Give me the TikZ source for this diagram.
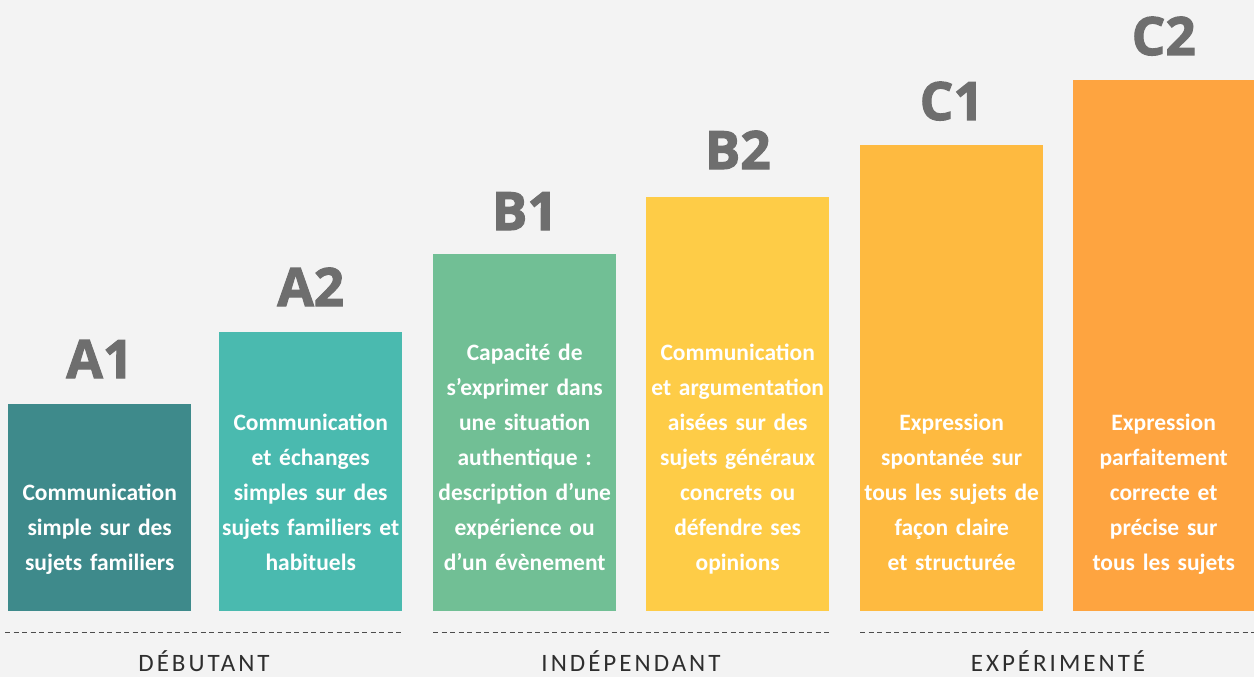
\documentclass[tikz,border=0pt]{standalone}
\usepackage{fontspec}
\setmainfont{Carlito}
\newfontfamily\lvlfont[FakeBold=2]{Open Sans Bold}
\newfontfamily\catfont[LetterSpace=12]{Carlito}
\definecolor{bgc}{HTML}{F3F3F3}
\definecolor{ca1}{HTML}{3E8A8B}
\definecolor{ca2}{HTML}{4ABAAF}
\definecolor{cb1}{HTML}{71BF95}
\definecolor{cb2}{HTML}{FECC47}
\definecolor{cc1}{HTML}{FEBA40}
\definecolor{cc2}{HTML}{FEA440}
\definecolor{lvlgray}{HTML}{6E6E6E}
\definecolor{catgray}{HTML}{2E2E2E}
\tikzset{
  bar/.style={anchor=north west, inner sep=0, minimum width=183pt, draw=none},
  bartext/.style={anchor=south, inner sep=0, text=white, align=center, text width=183pt,
    font=\fontsize{23.5}{35}\selectfont\bfseries},
  lvl/.style={anchor=base, inner sep=0, text=lvlgray, font=\lvlfont\fontsize{53}{60}\selectfont},
  sepline/.style={draw=black!70, line width=0.9pt, dash pattern=on 5pt off 3.5pt},
  cat/.style={anchor=base, inner sep=0, text=catgray, font=\catfont\fontsize{25}{30}\selectfont}
}
\newcommand{\lastdp}{\rule[-7pt]{0pt}{1pt}}
\begin{document}
\begin{tikzpicture}[x=1pt,y=-1pt]
\fill[bgc] (0,0) rectangle (1254,677);
\useasboundingbox (0,0) rectangle (1254,677);
% bars
\node[bar, fill=ca1, minimum height=207pt] (a1) at (8,404) {};
\node[bar, fill=ca2, minimum height=279pt] (a2) at (219,332) {};
\node[bar, fill=cb1, minimum height=357pt] (b1) at (433,254) {};
\node[bar, fill=cb2, minimum height=414pt] (b2) at (646,197) {};
\node[bar, fill=cc1, minimum height=466pt] (c1) at (860,145) {};
\node[bar, fill=cc2, minimum height=531pt, minimum width=181pt] (c2) at (1073,80) {};
% level labels
\node[lvl] (la1) at ([yshift=26pt]a1.north) {A1};
\node[lvl] (la2) at ([yshift=26pt]a2.north) {A2};
\node[lvl] (lb1) at ([yshift=24pt]b1.north) {B1};
\node[lvl] (lb2) at ([yshift=28pt]b2.north) {B2};
\node[lvl] (lc1) at ([yshift=25pt]c1.north) {C1};
\node[lvl] (lc2) at ([yshift=25pt]c2.north) {C2};
% texts
\node[bartext] (ta1) at ([yshift=34pt]a1.south) {Communication\\simple sur des\\sujets familiers\lastdp};
\node[bartext] (ta2) at ([yshift=34pt]a2.south) {Communication\\et échanges\\simples sur des\\sujets familiers et\\habituels\lastdp};
\node[bartext] (tb1) at ([yshift=34pt]b1.south) {Capacité de\\s’exprimer dans\\une situation\\authentique :\\description d’une\\expérience ou\\d’un évènement\lastdp};
\node[bartext] (tb2) at ([yshift=34pt]b2.south) {Communication\\et argumentation\\aisées sur des\\sujets généraux\\concrets ou\\défendre ses\\opinions\lastdp};
\node[bartext] (tc1) at ([yshift=34pt]c1.south) {Expression\\spontanée sur\\tous les sujets de\\façon claire\\et structurée\lastdp};
\node[bartext] (tc2) at ([yshift=34pt]c2.south) {Expression\\parfaitement\\correcte et\\précise sur\\tous les sujets\lastdp};
% separators
\coordinate (s1a) at (5,632); \coordinate (s1b) at (402,632);
\coordinate (s2a) at (433,632); \coordinate (s2b) at (829,632);
\coordinate (s3a) at (860,632); \coordinate (s3b) at (1254,632);
\draw[sepline] (s1a) -- (s1b);
\draw[sepline] (s2a) -- (s2b);
\draw[sepline] (s3a) -- (s3b);
% categories
\node[cat] (deb) at (204,671) {DÉBUTANT};
\node[cat] (ind) at (631,671) {INDÉPENDANT};
\node[cat] (exp) at (1058,671) {EXPÉRIMENTÉ};
\end{tikzpicture}
\end{document}
